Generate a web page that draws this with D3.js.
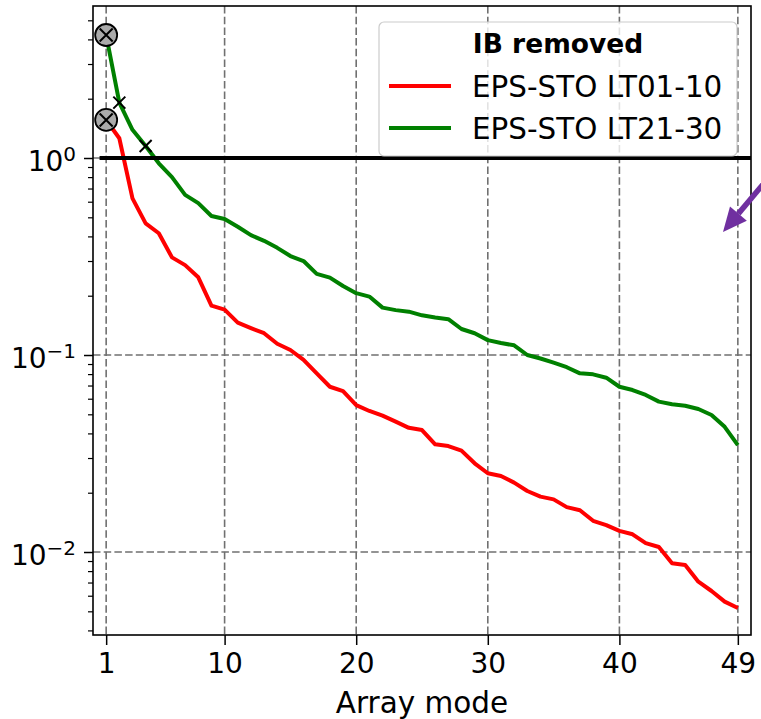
<!DOCTYPE html>
<html>
<head>
<meta charset="utf-8">
<script src="https://cdn.jsdelivr.net/npm/d3@7"></script>
<style>
  body { margin: 0; background: #fff; }
  svg text { font-family: "DejaVu Sans", sans-serif; }
</style>
</head>
<body>
<svg id="chart" width="761" height="719"></svg>
<script>
// array modes 1..49
const modes = d3.range(1, 50);

// IB removed, EPS-STO LT01-10 (red)
const lt0110 = [1.56, 1.26, 0.624, 0.466, 0.415, 0.313, 0.286, 0.248, 0.178, 0.17,
  0.146, 0.137, 0.129, 0.114, 0.106, 0.0944, 0.0807, 0.069, 0.0656, 0.0557,
  0.052, 0.0492, 0.0459, 0.0427, 0.0416, 0.0352, 0.0345, 0.0327, 0.0282, 0.0251,
  0.0243, 0.0225, 0.0204, 0.0191, 0.0185, 0.0169, 0.0163, 0.0144, 0.0137, 0.0128,
  0.0123, 0.0111, 0.0106, 0.00877, 0.0086, 0.00707, 0.00634, 0.0056, 0.0052];

// IB removed, EPS-STO LT21-30 (green)
const lt2130 = [4.21, 1.91, 1.39, 1.15, 0.94, 0.80, 0.65, 0.59, 0.508, 0.49,
  0.448, 0.406, 0.38, 0.35, 0.318, 0.30, 0.258, 0.247, 0.224, 0.206,
  0.198, 0.174, 0.169, 0.166, 0.159, 0.155, 0.152, 0.1355, 0.129, 0.119,
  0.115, 0.112, 0.1, 0.096, 0.0914, 0.0867, 0.0807, 0.0798, 0.0767, 0.069,
  0.0664, 0.0627, 0.058, 0.0562, 0.0553, 0.0532, 0.0496, 0.0432, 0.0349];

const xTicks = [1, 10, 20, 30, 40, 49];
const yTicks = [1, 0.1, 0.01];
const yTickExp = ["0", "\u22121", "\u22122"];

// circled points (mode 1) and crossed points on green
const circled = [{m: 1, v: lt2130[0]}, {m: 1, v: lt0110[0]}];
const crossed = [{m: 2, v: lt2130[1]}, {m: 4, v: lt2130[3]}];

const series = [
  {name: "EPS-STO LT01-10", values: lt0110, color: "#ff0000"},
  {name: "EPS-STO LT21-30", values: lt2130, color: "#008000"}
];

const pl = 93, pr = 751, pt = 6, pb = 635;

const svg = d3.select("#chart");

const x = d3.scaleLinear().domain([0, 50]).range([pl, pr]);
const y = d3.scaleLog().domain([0.003791, 5.91]).range([pb, pt]);

svg.append("defs").append("clipPath").attr("id", "clip")
  .append("rect").attr("x", pl).attr("y", pt)
  .attr("width", pr - pl).attr("height", pb - pt);

// grid
const grid = svg.append("g").attr("stroke", "#707070").attr("stroke-width", 1.6)
  .attr("stroke-dasharray", "7.5,3.2");
grid.selectAll(".gx").data(xTicks).join("line")
  .attr("x1", d => x(d)).attr("x2", d => x(d))
  .attr("y1", pt).attr("y2", pb);
grid.selectAll(".gy").data(yTicks).join("line")
  .attr("x1", pl).attr("x2", pr)
  .attr("y1", d => y(d)).attr("y2", d => y(d));

const plot = svg.append("g").attr("clip-path", "url(#clip)");

// series lines
const line = d3.line().x((d, i) => x(modes[i])).y(d => y(d));
plot.selectAll(".series").data(series).join("path")
  .attr("fill", "none")
  .attr("stroke", d => d.color)
  .attr("stroke-width", 4)
  .attr("stroke-linejoin", "round")
  .attr("d", d => line(d.values));

// reference line at 1
plot.append("line")
  .attr("x1", x(0.5)).attr("x2", x(50))
  .attr("y1", y(1)).attr("y2", y(1))
  .attr("stroke", "#000").attr("stroke-width", 3.8);

// crossed markers
crossed.forEach(p => {
  const cx = x(p.m), cy = y(p.v), s = 6;
  svg.append("path")
    .attr("d", `M${cx - s},${cy - s}L${cx + s},${cy + s}M${cx - s},${cy + s}L${cx + s},${cy - s}`)
    .attr("stroke", "#000").attr("stroke-width", 2);
});

// circled markers
circled.forEach(p => {
  const cx = x(p.m), cy = y(p.v), s = 6.5;
  svg.append("circle").attr("cx", cx).attr("cy", cy).attr("r", 11)
    .attr("fill", "#aaaaaa").attr("stroke", "#000").attr("stroke-width", 1.8);
  svg.append("path")
    .attr("d", `M${cx - s},${cy - s}L${cx + s},${cy + s}M${cx - s},${cy + s}L${cx + s},${cy - s}`)
    .attr("stroke", "#000").attr("stroke-width", 2);
});

// x axis
const xAxis = svg.append("g").attr("transform", `translate(0,${pb})`)
  .call(d3.axisBottom(x).tickValues(xTicks).tickSize(10).tickPadding(8).tickFormat(d3.format("d")));
xAxis.select(".domain").remove();
xAxis.selectAll(".tick line").attr("stroke", "#000").attr("stroke-width", 1.5);
xAxis.selectAll(".tick text").attr("font-size", 28).attr("fill", "#000")
  .attr("font-family", "DejaVu Sans");

// y axis minor ticks
const minor = [];
for (let e = -3; e <= 0; e++) {
  for (let k = 2; k <= 9; k++) {
    const v = k * Math.pow(10, e);
    if (v >= y.domain()[0] && v <= y.domain()[1]) minor.push(v);
  }
}
const yMinor = svg.append("g").attr("transform", `translate(${pl},0)`)
  .call(d3.axisLeft(y).tickValues(minor).tickSize(5).tickFormat(""));
yMinor.select(".domain").remove();
yMinor.selectAll(".tick line").attr("stroke", "#000").attr("stroke-width", 1.2);

const yAxis = svg.append("g").attr("transform", `translate(${pl},0)`)
  .call(d3.axisLeft(y).tickValues(yTicks).tickSize(9).tickFormat(""));
yAxis.select(".domain").remove();
yAxis.selectAll(".tick line").attr("stroke", "#000").attr("stroke-width", 1.5);

const yLab = svg.append("g").selectAll("text").data(yTicks).join("text")
  .attr("x", 76).attr("y", d => y(d) + 13)
  .attr("text-anchor", "end").attr("font-size", 28).attr("fill", "#000");
yLab.append("tspan").text("10");
yLab.append("tspan").attr("font-size", 20).attr("dy", -10.5).text((d, i) => yTickExp[i]);

// spines
svg.append("rect").attr("x", pl).attr("y", pt)
  .attr("width", pr - pl).attr("height", pb - pt)
  .attr("fill", "none").attr("stroke", "#000").attr("stroke-width", 1.6);

// x label
svg.append("text").attr("x", (pl + pr) / 2).attr("y", 713)
  .attr("text-anchor", "middle").attr("font-size", 29.5).attr("fill", "#000")
  .text("Array mode");

// legend
const lg = svg.append("g");
lg.append("rect").attr("x", 379).attr("y", 22).attr("width", 358).attr("height", 134)
  .attr("rx", 5).attr("fill", "#fff").attr("fill-opacity", 0.8)
  .attr("stroke", "#cccccc").attr("stroke-width", 1.2);
lg.append("text").attr("x", 558).attr("y", 53).attr("text-anchor", "middle")
  .attr("font-size", 26.5).attr("font-weight", "bold").attr("fill", "#000")
  .text("IB removed");
series.forEach((s, i) => {
  const yy = 86 + i * 42;
  lg.append("line").attr("x1", 389).attr("x2", 451).attr("y1", yy).attr("y2", yy)
    .attr("stroke", s.color).attr("stroke-width", 4);
  lg.append("text").attr("x", 472).attr("y", yy + 10.5).attr("font-size", 29.4)
    .attr("fill", "#000").text(s.name);
});

// purple arrow coming from the right edge
const tip = [723, 232];
const ang = Math.atan2(232 - 170, 723 - 775);
const ux = Math.cos(ang), uy = Math.sin(ang);
const headLen = 24, headW = 11;
const bx = tip[0] - ux * headLen, by = tip[1] - uy * headLen;
svg.append("line").attr("x1", 775).attr("y1", 170).attr("x2", bx).attr("y2", by)
  .attr("stroke", "#7030a0").attr("stroke-width", 5.5);
svg.append("path")
  .attr("d", `M${tip[0]},${tip[1]}L${bx - uy * headW},${by + ux * headW}L${bx + uy * headW},${by - ux * headW}Z`)
  .attr("fill", "#7030a0");
</script>
</body>
</html>
